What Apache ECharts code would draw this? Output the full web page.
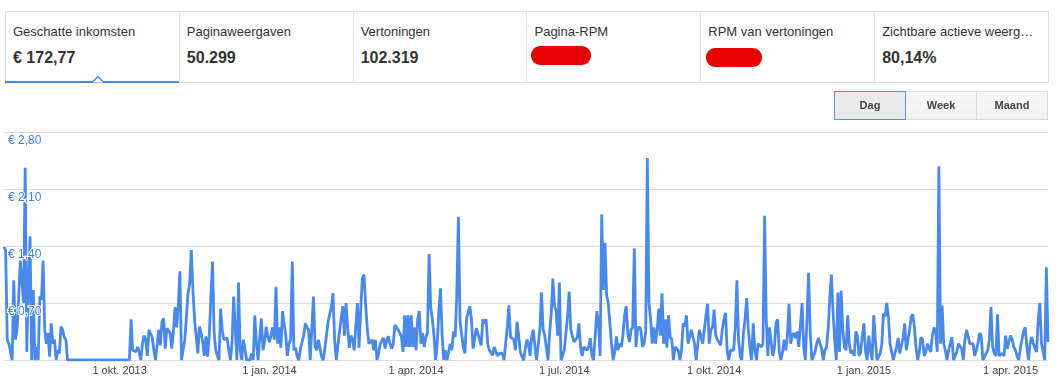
<!DOCTYPE html>
<html><head><meta charset="utf-8">
<script src="https://cdn.jsdelivr.net/npm/echarts@6/dist/echarts.min.js"></script>
<style>
html,body{margin:0;padding:0;background:#fff;}
#wrap{position:relative;width:1062px;height:387px;overflow:hidden;font-family:"Liberation Sans",Arial,Helvetica,sans-serif;}
#chart{position:absolute;left:0;top:0;width:1062px;height:387px;}
.tabs{position:absolute;left:5px;top:11px;width:1044px;height:72px;border:1px solid #dedede;box-sizing:border-box;display:flex;z-index:2;background:#fff;}
.tab{position:relative;width:174px;height:100%;box-sizing:border-box;border-left:1px solid #e6e6e6;}
.tab:first-child{border-left:none;width:173px;}
.lbl{position:absolute;left:7px;top:12px;font-size:13px;color:#333;white-space:nowrap;}
.val{position:absolute;left:7px;top:37px;font-size:16px;font-weight:bold;color:#333;white-space:nowrap;}
.red{position:absolute;background:#e60000;border-radius:9px;}
.blue{position:absolute;left:-1px;bottom:-1px;width:174px;height:2px;background:#4a89e8;}
.caret{position:absolute;left:80px;top:61px;}
.btns{position:absolute;left:835px;top:91px;height:29px;display:flex;z-index:2;}
.btn{width:72px;height:29px;box-sizing:border-box;border:1px solid #dcdcdc;background:linear-gradient(#f8f8f8,#f0f0f0);font-size:11px;font-weight:bold;color:#444;text-align:center;line-height:27px;margin-left:-1px;}
.btn.sel{border-color:#4d90fe;background:#eaeaea;position:relative;z-index:1;}
</style>
</head><body>
<div id="wrap">
<div id="chart"></div>
<div class="tabs">
  <div class="tab"><div class="lbl">Geschatte inkomsten</div><div class="val">€ 172,77</div><div class="blue"></div>
    <svg class="caret" width="24" height="10"><polyline points="6,9.5 12,3.5 18,9.5" fill="#fff" stroke="#4a89e8" stroke-width="1.5"/></svg></div>
  <div class="tab"><div class="lbl">Paginaweergaven</div><div class="val">50.299</div></div>
  <div class="tab"><div class="lbl">Vertoningen</div><div class="val">102.319</div></div>
  <div class="tab"><div class="lbl">Pagina-RPM</div><div class="red" style="left:4px;top:34px;width:60px;height:19px;"></div></div>
  <div class="tab"><div class="lbl">RPM van vertoningen</div><div class="red" style="left:5px;top:36px;width:56px;height:19px;"></div></div>
  <div class="tab"><div class="lbl">Zichtbare actieve weerg…</div><div class="val">80,14%</div></div>
</div>
<div class="btns"><div class="btn sel">Dag</div><div class="btn">Week</div><div class="btn">Maand</div></div>
</div>
<script>
// first day of the series and daily values (euro)
const startDate = [2013, 7, 22];
const values = [
1.39,1.35,0.25,0.2,0.22,0,0.98,0.25,0.37,0.75,
1.22,0.98,0.7,2.36,0.1,0.98,1.52,0,0.86,0,
0.16,0,0.78,0.74,1.22,0.37,0.2,0.33,0.04,0.45,
0.2,0.25,0,0.12,0.08,0.41,0.37,0.28,0.25,0,
0,0,0,0,0,0,0,0,0,0,
0,0,0,0,0,0,0,0,0,0,
0,0,0,0,0,0,0,0,0,0,
0,0,0,0,0,0,0,0,0.5,0.12,
0.14,0.1,0.16,0.1,0,0.2,0.3,0.25,0.05,0.37,
0.37,0.28,0.12,0,0,0.37,0.18,0.47,0.51,0.14,
0.39,0.37,0.33,0.14,0.35,0.65,0.4,0.66,1.09,0,
0,0.25,0.53,0.82,0.94,1.35,0.86,0.5,0.49,0.08,
0.41,0.33,0.22,0.05,0.29,0.04,0.29,0.28,1.21,0.35,
0.12,0.05,0,0.63,0.37,0.25,0.26,0.27,0.12,0,
0.2,0.78,0.37,0,0.95,0.12,0,0.25,0.25,0,
0,0,0.08,0,0.55,0.2,0,0.28,0.51,0.12,
0.23,0.41,0.29,0.22,0.22,0.4,0.25,0.9,0.2,0.4,
0.15,0.6,0.45,0.3,0.05,0.2,0.25,1.21,0.12,0.15,
0.04,0,0.14,0.14,0.3,0.45,0.4,0.37,0,0,
0.78,0.16,0.12,0.25,0.27,0.04,0,0.14,0.12,0.47,
0.49,0.65,0.82,0.25,0,0,0.35,0.37,0.66,0.3,
0.7,0.4,0.15,0.3,0.25,0.12,0.12,0.7,0.15,0.6,
1.0,1.05,0.7,0.4,0.2,0.18,0.25,0.12,0.25,0,
0.08,0.2,0.2,0.27,0.14,0.25,0.29,0.2,0.14,0.2,
0.43,0.41,0.37,0.37,0.29,0.1,0.55,0.16,0.55,0.16,
0.55,0.16,0.4,0.12,0.5,0.6,0.2,0.33,0.16,0.28,
0.33,1.3,0.65,0.5,0.3,0,0.2,0.6,0.88,0.3,
0,0.12,0,0.1,0.2,0.12,0.35,0.28,0.8,1.76,
0.47,0.47,0.16,0.08,0.51,0.53,0.66,0.5,0.14,0.14,
0.39,0.37,0.25,0.18,0.5,0.45,0.5,0.2,0.12,0.12,
0.06,0.16,0.18,0.05,0.08,0.1,0.08,0,0,0.4,
0.67,0.28,0.28,0.25,0.12,0.47,0.3,0.1,0.04,0,
0,0.25,0.2,0.05,0.29,0.37,0.16,0,0,0.37,
0.83,0.38,0.3,0.15,0,0.33,0.57,1.0,0.66,0.6,
0.3,0.95,0,0,0.12,0.12,0.53,0.84,0.37,0.37,
0.22,0.2,0.28,0.45,0.16,0.05,0.16,0.14,0.12,0.16,
0.27,0.05,0,0,0.6,0.45,0.05,1.79,0.86,1.44,
0.8,0.7,0.68,0.2,0,0.1,0.29,0.12,0.2,0.16,
0.3,0.55,0.66,0.33,0.22,0.37,0.4,1.37,0.16,0.37,
0.41,0.37,0.16,0.2,0.35,2.48,0.7,0.5,0.2,0.4,
0.2,0.37,0.63,0.3,0.82,0.2,0.5,0.15,0.55,0.28,
0.25,0,0.16,0.14,0.12,0,0.12,0.45,0.41,0.55,
0.2,0.2,0.37,0.37,0.2,0,0.2,0.37,0.37,0.2,
0.37,0.55,0.69,0.2,0.37,0.4,0.62,0.3,0.25,0.25,
0.18,0.37,0.5,0.58,0.12,0,0.12,0.12,0.12,0.4,
0.98,0.25,0.05,0,0.33,0.5,0.76,0.37,0.16,0,
0.45,0.12,0,0.2,0.18,0.16,0.2,1.77,0.5,0.05,
0.4,0.41,0.05,0.15,0.45,0.5,0.1,0,0.1,0.25,
0.12,0.3,0.69,0.2,0.3,0.33,0.27,0.35,0.16,0.16,
0.7,0.16,0,0.5,1.07,0.35,0,0,0.1,0.2,
0.27,0.25,0.14,0,0.12,0.15,0.37,0.75,1.05,0.6,
0.25,0,0.83,0.1,0.85,0.37,0.16,0.12,0.55,0.2,
0.08,0.12,0.05,0.35,0.3,0.05,0.1,0.3,0.45,0.1,
0,0.3,0.12,0,0.55,0.25,0,0,0.08,0.2,
0.57,0.53,0.7,0.53,0.2,0.1,0,0,0.16,0.27,
0.08,0.1,0.27,0.45,0.12,0.12,0.37,0.53,0.56,0.4,
0.15,0,0.1,0.28,0.25,0.05,0.1,0.2,0.2,0.1,
0.3,0.4,0.35,0.1,2.38,0.2,0.67,0.2,0.12,0,
0.12,0.12,0.28,0,0,0.1,0.2,0.2,0.14,0,
0.25,0.37,0.37,0.2,0.2,0.2,0.05,0.12,0.2,0.33,
0.3,0,0,0.08,0.12,0.25,0.65,0.16,0.08,0.05,
0.56,0.05,0.05,0.08,0.05,0.3,0.14,0.14,0.3,0.25,
0.16,0.12,0.05,0,0.14,0.14,0.35,0.4,0.16,0,
0.2,0.28,0.2,0.2,0.1,0.5,0.7,0.2,0.1,0,
1.14,0.22
];
const tickDates = ['2013-10-01','2014-01-01','2014-04-01','2014-07-01','2014-10-01','2015-01-01','2015-04-01'];
const tickLabels = ['1 okt. 2013','1 jan. 2014','1 apr. 2014','1 jul. 2014','1 okt. 2014','1 jan. 2015','1 apr. 2015'];
const yTicks = [0, 0.7, 1.4, 2.1, 2.8];

// category list: one date per value
function pad(n){return (n<10?'0':'')+n;}
const dates = values.map((v,i)=>{
  const d = new Date(Date.UTC(startDate[0], startDate[1]-1, startDate[2]+i));
  return d.getUTCFullYear()+'-'+pad(d.getUTCMonth()+1)+'-'+pad(d.getUTCDate());
});
const tickMap = {};
tickDates.forEach((d,i)=>{tickMap[d]=tickLabels[i];});
const euro = v => v===0 ? '' : '€ ' + v.toFixed(2).replace('.', ',');

const chart = echarts.init(document.getElementById('chart'), null, {renderer:'canvas'});
chart.setOption({
  animation:false,
  grid:{left:4, right:14, top:132, bottom:27, containLabel:false},
  xAxis:{
    type:'category', data:dates, boundaryGap:false,
    axisLine:{show:true, lineStyle:{color:'#dcdcdc'}},
    axisTick:{show:false},
    splitLine:{show:false},
    axisLabel:{
      interval:(i,v)=>tickMap[v]!==undefined,
      formatter:v=>tickMap[v]||'',
      color:'#444', fontSize:11, margin:5,
      fontFamily:'"Liberation Sans", Arial, sans-serif'
    }
  },
  yAxis:[{
    type:'value', min:yTicks[0], max:yTicks[yTicks.length-1], interval:0.7,
    axisLine:{show:false}, axisTick:{show:false},
    splitLine:{lineStyle:{color:'#dcdcdc', width:1}},
    axisLabel:{show:false}
  },{
    type:'value', min:yTicks[0], max:yTicks[yTicks.length-1], interval:0.7, z:10,
    position:'left',
    axisLine:{show:false}, axisTick:{show:false}, splitLine:{show:false},
    axisLabel:{
      inside:true, formatter:euro, color:'#3f80ea', fontSize:12,
      verticalAlign:'top', padding:[3,0,0,0], margin:4,
      textBorderColor:'#fff', textBorderWidth:2,
      fontFamily:'"Liberation Sans", Arial, sans-serif'
    }
  }],
  series:[{
    type:'line', data:values, yAxisIndex:0,
    showSymbol:false, symbol:'none',
    lineStyle:{color:'#4a89e8', width:2.8},
    itemStyle:{color:'#4a89e8'}
  }]
});
</script>
</body></html>
